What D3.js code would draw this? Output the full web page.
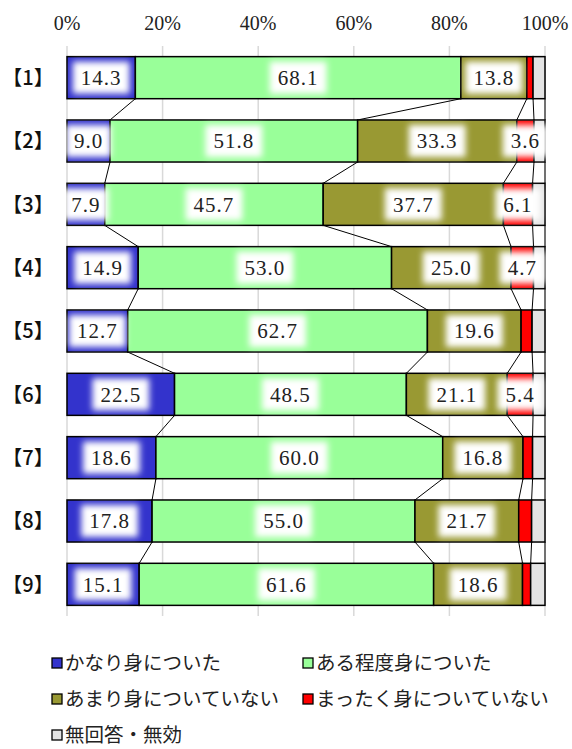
<!DOCTYPE html>
<html lang="ja">
<head>
    <meta charset="UTF-8">
    <title>身についた度合い</title>
    <script src="https://d3js.org/d3.v7.min.js"></script>
    <style>
        body {
            margin: 0;
            background: #fff;
        }
        svg {
            display: block;
        }
        .num {
            font-family: "Liberation Serif", "DejaVu Serif", serif;
        }
        .jp {
            font-family: "Noto Sans CJK JP", sans-serif;
        }
    </style>
</head>
<body>
    <svg width="572" height="749"></svg>

    <script>
        // categories and series (percent)
        const categories = ["【1】", "【2】", "【3】", "【4】", "【5】", "【6】", "【7】", "【8】", "【9】"];
        const seriesNames = ["かなり身についた", "ある程度身についた", "あまり身についていない", "まったく身についていない", "無回答・無効"];
        const seriesColors = ["#3333cc", "#99ff99", "#999933", "#ff0000", "#e3e3e3"];

        const muchGained = [14.3, 9.0, 7.9, 14.9, 12.7, 22.5, 18.6, 17.8, 15.1];
        const someGained = [68.1, 51.8, 45.7, 53.0, 62.7, 48.5, 60.0, 55.0, 61.6];
        const littleGained = [13.8, 33.3, 37.7, 25.0, 19.6, 21.1, 16.8, 21.7, 18.6];
        const notGained = [1.3, 3.6, 6.1, 4.7, 2.3, 5.4, 2.0, 2.7, 1.7];
        const noAnswer = [2.5, 2.3, 2.6, 2.4, 2.7, 2.5, 2.6, 2.8, 3.0];

        const tickValues = [0, 20, 40, 60, 80, 100];

        const svg = d3.select("svg");

        const x = d3.scaleLinear().domain([0, 100]).range([67, 545]);
        const y = d3.scaleBand().domain(categories).range([46, 616])
            .paddingInner(0.336).paddingOuter(0.168);

        // build table for stacking
        const rows = categories.map((c, i) => ({
            cat: c,
            s0: muchGained[i], s1: someGained[i], s2: littleGained[i], s3: notGained[i], s4: noAnswer[i]
        }));
        const keys = ["s0", "s1", "s2", "s3", "s4"];
        const stacked = d3.stack().keys(keys)(rows);

        // white glow behind labels
        const defs = svg.append("defs");
        defs.append("filter")
            .attr("id", "glow")
            .attr("x", "-30%").attr("y", "-30%")
            .attr("width", "160%").attr("height", "160%")
            .append("feGaussianBlur")
            .attr("stdDeviation", 3);

        // gridlines
        svg.append("g")
            .selectAll("line")
            .data(tickValues)
            .join("line")
            .attr("x1", d => x(d)).attr("x2", d => x(d))
            .attr("y1", 46).attr("y2", 616)
            .attr("stroke", "#d9d9d9")
            .attr("stroke-width", 1.5);

        // top axis labels
        svg.append("g")
            .selectAll("text")
            .data(tickValues)
            .join("text")
            .attr("class", "num")
            .attr("x", d => x(d))
            .attr("y", 30)
            .attr("text-anchor", "middle")
            .attr("font-size", 20)
            .attr("fill", "#222")
            .text(d => d + "%");

        // category labels
        svg.append("g")
            .selectAll("text")
            .data(categories)
            .join("text")
            .attr("class", "jp")
            .attr("x", 28)
            .attr("y", d => y(d) + y.bandwidth() / 2)
            .attr("dy", "0.36em")
            .attr("text-anchor", "middle")
            .attr("font-size", 20)
            .attr("font-weight", 500)
            .attr("fill", "#111")
            .text(d => d);

        // series lines between bars
        const lines = [];
        for (let i = 0; i < rows.length - 1; i++) {
            stacked.forEach(layer => {
                lines.push({
                    x1: x(layer[i][1]), y1: y(categories[i]) + y.bandwidth(),
                    x2: x(layer[i + 1][1]), y2: y(categories[i + 1])
                });
            });
        }
        svg.append("g")
            .selectAll("line")
            .data(lines)
            .join("line")
            .attr("x1", d => d.x1).attr("y1", d => d.y1)
            .attr("x2", d => d.x2).attr("y2", d => d.y2)
            .attr("stroke", "#000")
            .attr("stroke-width", 1);

        // bars
        svg.append("g")
            .selectAll("g")
            .data(stacked)
            .join("g")
            .attr("fill", (d, i) => seriesColors[i])
            .selectAll("rect")
            .data(d => d)
            .join("rect")
            .attr("x", d => x(d[0]))
            .attr("y", d => y(d.data.cat))
            .attr("width", d => x(d[1]) - x(d[0]))
            .attr("height", y.bandwidth())
            .attr("stroke", "#000")
            .attr("stroke-width", 1.5);

        // value labels (no label for the small / no-answer parts)
        const labels = [];
        stacked.slice(0, 4).forEach(layer => {
            layer.forEach(d => {
                const v = d[1] - d[0];
                if (v >= 3) labels.push({ cx: x((d[0] + d[1]) / 2), cy: y(d.data.cat) + y.bandwidth() / 2, text: v.toFixed(1) });
            });
        });

        const lab = svg.append("g")
            .selectAll("g")
            .data(labels)
            .join("g")
            .attr("transform", d => `translate(${d.cx},${d.cy})`);

        lab.append("text")
            .attr("class", "num")
            .attr("text-anchor", "middle")
            .attr("dy", "0.35em")
            .attr("font-size", 21)
            .attr("letter-spacing", 1)
            .text(d => d.text)
            .each(function (d) { d.w = this.getComputedTextLength(); });

        lab.insert("rect", "text")
            .attr("x", d => -d.w / 2 - 8)
            .attr("y", -y.bandwidth() / 2 + 5)
            .attr("width", d => d.w + 16)
            .attr("height", y.bandwidth() - 10)
            .attr("fill", "#fff")
            .attr("filter", "url(#glow)");

        lab.select("text").attr("fill", "#222");

        // legend
        const legendPos = [[52, 663], [303, 663], [52, 699], [303, 699], [52, 735]];
        const legend = svg.append("g")
            .selectAll("g")
            .data(seriesNames)
            .join("g")
            .attr("transform", (d, i) => `translate(${legendPos[i][0]},${legendPos[i][1]})`);

        legend.append("rect")
            .attr("x", 0).attr("y", -5)
            .attr("width", 10).attr("height", 10)
            .attr("fill", (d, i) => seriesColors[i])
            .attr("stroke", "#000")
            .attr("stroke-width", 1.3);

        legend.append("text")
            .attr("class", "jp")
            .attr("x", 13)
            .attr("dy", "0.36em")
            .attr("font-size", 19.5)
            .attr("fill", "#222")
            .text(d => d);
    </script>
</body>
</html>
